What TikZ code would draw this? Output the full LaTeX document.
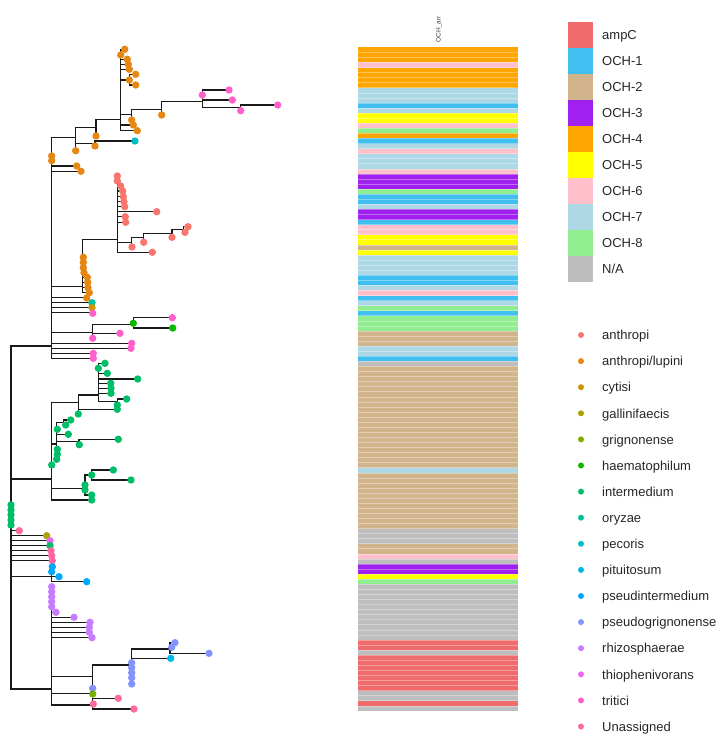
\documentclass[tikz,border=0pt]{standalone}
\usepackage{fontspec}
\setmainfont{Liberation Sans}
\usetikzlibrary{positioning}

% tip colours (hue palette)
\definecolor{anth}{HTML}{F8766D}
\definecolor{lup}{HTML}{E68613}
\definecolor{cyt}{HTML}{CD9600}
\definecolor{gall}{HTML}{ABA300}
\definecolor{grig}{HTML}{7CAE00}
\definecolor{haem}{HTML}{0CB702}
\definecolor{inter}{HTML}{00BE67}
\definecolor{ory}{HTML}{00C19A}
\definecolor{pec}{HTML}{00BFC4}
\definecolor{pit}{HTML}{00B8E7}
\definecolor{psin}{HTML}{00A9FF}
\definecolor{psgr}{HTML}{8494FF}
\definecolor{rhiz}{HTML}{C77CFF}
\definecolor{thio}{HTML}{ED68ED}
\definecolor{trit}{HTML}{FF61CC}
\definecolor{unas}{HTML}{FF68A1}
% gene colours
\definecolor{ampc}{HTML}{F06B6B}
\definecolor{och1}{HTML}{40BFF0}
\definecolor{och2}{HTML}{D2B48C}
\definecolor{och3}{HTML}{A020F0}
\definecolor{och4}{HTML}{FFA500}
\definecolor{och5}{HTML}{FFFF00}
\definecolor{och6}{HTML}{FFC0CB}
\definecolor{och7}{HTML}{ADD8E6}
\definecolor{och8}{HTML}{90EE90}
\definecolor{na}{HTML}{BEBEBE}

\begin{document}
\begin{tikzpicture}[x=1pt,y=-1pt,
  br/.style={line width=1.5pt,line cap=rect,black!90},
  sep/.style={white,opacity=.35,line width=.7pt},
  lab/.style={anchor=base west,inner sep=0pt,text=black!85,font=\fontsize{13}{15}\selectfont}]

\useasboundingbox (0,0) rectangle (721,739);

% tree: vertical branches
\foreach \x/\a/\b in {11/346/689, 51.7/137.3/358.3, 75.7/127.7/150.7, 96/119.3/136,
  95/141/146, 120.7/50/130.7, 129.3/74.3/85, 131.7/109.3/120, 161.7/101.7/115,
  202.3/90/107.7, 240.7/105/110.7, 117.3/176/252.3, 131.7/237.7/247, 143.3/233.3/242.3,
  172/229.3/237.3, 183.3/226.7/232.3, 82.7/239.3/292.7, 92.3/324.3/338.3,
  133.3/317.7/328, 51.7/402.7/500, 78.3/395/414, 98.3/363.3/401.7, 117.3/399/405,
  56.7/422.5/459.3, 63.3/420/425, 79/439.3/444.7, 85/475/495, 91.7/470/480,
  51.7/566.7/581.7, 51.7/586.7/705, 92.3/665/688.3, 131.7/649/684, 170/642.7/653.3,
  92.7/698.3/709}
  \draw[br] (\x,\a) -- (\x,\b);

% tree: horizontal branches
\foreach \y/\a/\b in {346/11/51.7, 479/11/51.7, 530.7/11/19.3, 535.7/11/46.7,
  540.7/11/50, 545.7/11/50, 550.7/11/51, 555.7/11/51.7, 560.7/11/52.3, 576.7/11/51.7,
  689/11/51.7, 137.3/51.7/75.7, 166/51.7/76.7, 171.3/51.7/81, 286.7/51.7/82.7,
  297.3/51.7/86.7, 302.7/51.7/92, 307.7/51.7/92, 312.7/51.7/92.7, 332.7/51.7/92.3,
  343.3/51.7/131.7, 348.3/51.7/131, 353.3/51.7/93.3, 358.3/51.7/93.3,
  127.7/75.7/96, 143.3/75.7/95, 119.3/96/120.7, 141/95/135, 114.7/120.7/131.7,
  50/120.7/124.7, 59.3/120.7/127.3, 64.3/120.7/128.3, 69.3/120.7/129.3, 80/120.7/129.3,
  125/120.7/133.3, 130.7/120.7/137.3, 74.3/129.3/135.7, 85/129.3/135.7,
  109.3/131.7/161.7, 101.7/161.7/202.3, 90/202.3/229, 100/202.3/232.3,
  107.7/202.3/240.7, 105/240.7/277.7, 239.3/82.7/117.3, 277.3/82.7/87.3,
  282.3/82.7/87.7, 287.7/82.7/88, 292.7/82.7/89.3, 186/117.3/120.7, 191/117.3/122.7,
  196.7/117.3/123.3, 201.7/117.3/124, 206.7/117.3/124.7, 211.7/117.3/156.7,
  216.7/117.3/125.3, 222.3/117.3/125.7, 242.7/117.3/131.7, 252.3/117.3/152.3,
  237.7/131.7/143.3, 233.3/143.3/172, 229.3/172/183.3, 226.7/183.3/188,
  232.3/183.3/185, 324.3/92.3/133.3, 333.3/92.3/120, 317.7/133.3/172.3,
  328/133.3/172.7, 402.7/51.7/78.3, 444/51.7/56.7, 488.3/51.7/85, 500/51.7/91.7,
  395/78.3/98.3, 409.3/78.3/117.3, 363.3/98.3/105, 373.3/98.3/107.3, 379/98.3/137.7,
  383.3/98.3/110.7, 388.3/98.3/111, 393.3/98.3/111, 401.7/98.3/117.3,
  399/117.3/126.7, 422.5/56.7/63.3, 420/63.3/70.7, 434.3/56.7/68.3, 441.7/56.7/79,
  439.3/79/118.3, 475/85/91.7, 495/85/91.7, 470/91.7/113.3, 480/91.7/131,
  576.7/51.7/59, 581.7/51.7/86.7, 612.3/51.7/56, 617.3/51.7/74, 622.3/51.7/90,
  627.3/51.7/89.3, 632.3/51.7/89.3, 637.7/51.7/92, 676.7/51.7/92.3, 693.3/51.7/92.7,
  705/51.7/92.7, 665/92.3/131.7, 649/131.7/170, 658.3/131.7/170.7, 642.7/170/175,
  647.3/170/171.7, 653.3/170/209, 698.3/92.7/118.3, 709/92.7/134}
  \draw[br] (\a,\y) -- (\b,\y);

% tree: tips
\foreach \x/\y/\c in {124.7/49.3/lup, 120.7/55/lup, 127.3/59.3/lup, 128.3/64.3/lup,
  129.3/69.3/lup, 135.7/74.3/lup, 129.3/80/lup, 135.7/85/lup, 131.7/120/lup,
  133.3/125/lup, 137.3/130.7/lup, 161.7/115/lup, 96/136/lup, 95/146/lup,
  75.7/150.7/lup, 51.7/156/lup, 51.7/160.7/lup, 76.7/166/lup, 81/171.3/lup,
  135/141/pec, 202.3/95/trit, 229/90/trit, 232.3/100/trit, 240.7/110.7/trit,
  277.7/105/trit, 117.3/176/anth, 117.3/181/anth, 120.7/186/anth, 122.7/191/anth,
  123.3/196.7/anth, 124/201.7/anth, 124.7/206.7/anth, 156.7/211.7/anth,
  125.3/216.7/anth, 125.7/222.3/anth, 188/226.7/anth, 185/232.3/anth, 172/237.3/anth,
  143.7/242.3/anth, 132/247/anth, 152.3/252.3/anth, 83.3/257.3/lup, 83.3/262.3/lup,
  83.3/267.7/lup, 84/272.7/lup, 87.3/277.3/lup, 87.7/282.3/lup, 88/287.7/lup,
  89.3/292.7/lup, 86.7/298/lup, 92/302.7/ory, 92/307.7/cyt, 92.7/313.3/trit,
  133.3/323.3/haem, 172.7/328/haem, 172.3/317.7/trit, 120/333.3/trit,
  92.7/338.3/trit, 131.7/343.3/trit, 131/348.3/trit, 93.3/353.3/trit,
  93.3/358.3/trit, 105/363.3/inter, 98.3/368.3/inter, 107.3/373.3/inter,
  137.7/379/inter, 110.7/383.3/inter, 111/388.3/inter, 111/393.3/inter,
  126.7/399/inter, 117.3/405/inter, 117.3/409.3/inter, 78.3/414/inter,
  70.7/420/inter, 65.7/425/inter, 57.3/429.3/inter, 68.3/434.3/inter,
  118.3/439.3/inter, 79.3/444.7/inter, 57.3/449.3/inter, 57.3/454.3/inter,
  56.7/459.3/inter, 51.7/465/inter, 113.3/470/inter, 91.7/475/inter, 131/480/inter,
  85/485/inter, 85/490/inter, 91.7/495/inter, 91.7/500/inter, 11/505/inter,
  11/510/inter, 11/515/inter, 11/520/inter, 11/525/inter, 19.3/530.7/unas,
  46.7/535.7/gall, 50/540.7/thio, 50/545.7/inter, 51/550.7/unas, 51.7/555.7/unas,
  52.3/560.7/unas, 52.3/566.7/psin, 51.7/571.7/psin, 59/576.7/psin, 86.7/581.7/psin,
  51.7/586.7/rhiz, 51.7/591.7/rhiz, 51.7/596.7/rhiz, 51.7/601.7/rhiz,
  51.7/606.7/rhiz, 56/612.3/rhiz, 74/617.3/rhiz, 90/622.3/rhiz, 89.3/627.3/rhiz,
  89.3/632.3/rhiz, 92/637.7/rhiz, 175/642.7/psgr, 171.7/647.3/psgr, 209/653.3/psgr,
  170.7/658.3/pit, 131.7/662.7/psgr, 131.7/667.7/psgr, 131.7/672.7/psgr,
  131.7/677.7/psgr, 131.7/684/psgr, 92.7/688.3/psgr, 92.7/694/grig,
  118.3/698.3/unas, 93.3/704/unas, 134/709/unas}
  \fill[\c] (\x,\y) circle[radius=3.7pt];

% heatmap column (rows from/to)
\foreach \a/\b/\c in {0/3/och4, 3/4/och6, 4/8/och4, 8/11/och7, 11/12/och1, 12/13/och7,
  13/15/och5, 15/16/och6, 16/17/och8, 17/18/och4, 18/19/och1, 19/20/och7, 20/21/och6,
  21/24/och7, 24/25/och6, 25/28/och3, 28/29/och8, 29/31/och1, 31/32/och7, 32/34/och3,
  34/35/och1, 35/37/och6, 37/39/och5, 39/40/och2, 40/41/och5, 41/45/och7, 45/47/och1,
  47/48/och7, 48/49/och6, 49/50/och1, 50/51/och7, 51/52/och8, 52/53/och1, 53/56/och8,
  56/59/och2, 59/61/och7, 61/62/och1, 62/63/na, 63/83/och2, 83/84/och7, 84/95/och2,
  95/98/na, 98/100/och2, 100/101/och6, 101/102/na, 102/104/och3, 104/105/och5,
  105/106/och8, 106/117/na, 117/119/ampc, 119/120/na, 120/127/ampc, 127/129/na,
  129/130/ampc, 130/131/na}
  \fill[\c] (358.3,{47.3+\a*5.066}) rectangle (517.7,{47.3+\b*5.066});
\foreach \i in {1,...,130}
  \draw[sep] (358.3,{47.3+\i*5.066}) -- (517.7,{47.3+\i*5.066});
\node[rotate=90,anchor=west,inner sep=0pt,text=black!75,font=\fontsize{6.5}{7}\selectfont]
  (colhead) at (439,42.5) {OCH\_arr};

% legend: genes
\foreach \lab/\c [count=\k from 0] in {ampC/ampc, OCH-1/och1, OCH-2/och2, OCH-3/och3,
  OCH-4/och4, OCH-5/och5, OCH-6/och6, OCH-7/och7, OCH-8/och8, {N/A}/na} {
  \fill[\c] (568.3,{21.7+26*\k}) rectangle (593.3,{47.7+26*\k});
  \node[lab] (gene\k) at (602,{39.4+26*\k}) {\lab};
}

% legend: species
\foreach \lab/\c [count=\k from 0] in {anthropi/anth, {anthropi/lupini}/lup,
  cytisi/cyt, gallinifaecis/gall, grignonense/grig, haematophilum/haem,
  intermedium/inter, oryzae/ory, pecoris/pec, pituitosum/pit,
  pseudintermedium/psin, pseudogrignonense/psgr, rhizosphaerae/rhiz,
  thiophenivorans/thio, tritici/trit, Unassigned/unas} {
  \fill[\c] (581,{335+26.1*\k}) circle[radius=3pt];
  \node[lab] (sp\k) at (602,{339.7+26.1*\k}) {\lab};
}
\end{tikzpicture}
\end{document}
